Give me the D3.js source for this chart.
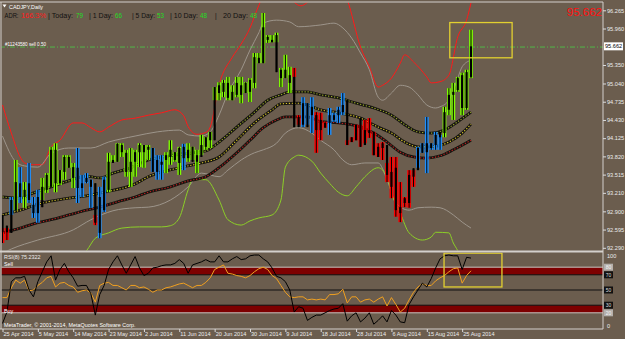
<!DOCTYPE html>
<html>
<head>
<meta charset="utf-8">
<script src="https://cdn.jsdelivr.net/npm/d3@7"></script>
<style>
body{margin:0;background:#6b5d4e;overflow:hidden}
svg{display:block;font-family:"Liberation Sans",Arial,sans-serif}
</style>
</head>
<body>
<div id="chart"></div>
<script>
// CADJPY daily bars, 25 Apr - 27 Aug 2014 (bar index 0..106)
var haHigh = [92.62,92.62,93.14,93.76,93.64,93.39,93.71,93.14,93.26,93.46,
93.54,93.98,94.04,93.59,93.84,93.84,93.71,93.96,93.51,93.54,
93.43,92.84,93.31,93.48,93.88,93.84,94.04,94.04,93.93,93.96,
93.93,94.04,94.01,94.01,93.96,93.84,93.84,93.89,94.09,93.89,
93.98,94.03,94.04,93.98,93.93,94.18,94.14,94.23,94.98,95.06,
95.10,95.15,95.01,95.15,95.15,95.06,95.13,95.55,95.55,96.22,
95.85,95.85,95.89,95.30,95.52,95.32,95.30,94.51,94.81,94.71,
94.81,94.56,94.55,94.40,94.63,94.55,94.65,94.88,94.09,94.14,
94.35,94.35,94.43,94.46,94.23,94.04,94.06,93.71,93.81,93.81,
93.39,93.14,93.59,93.59,93.98,94.04,94.48,94.04,94.23,94.18,
94.65,94.96,95.05,95.15,95.22,95.27,95.94]
var haLow = [92.37,92.42,92.84,92.92,93.04,92.96,93.04,92.79,92.71,93.09,
93.21,93.31,93.22,93.34,93.43,93.63,93.29,93.04,93.14,93.37,
92.96,92.67,92.45,92.89,93.22,93.73,93.73,93.81,93.48,93.31,
93.48,93.64,93.63,93.76,93.56,93.43,93.43,93.54,93.68,93.73,
93.51,93.59,93.73,93.76,93.54,93.84,93.93,93.96,94.76,94.76,
94.81,94.76,94.76,94.81,94.71,94.88,94.73,94.96,95.38,95.38,
95.72,95.73,95.73,94.98,95.13,94.88,95.15,94.35,94.31,94.35,
94.21,93.88,94.09,94.30,94.18,94.40,94.38,94.51,94.01,94.06,
94.09,93.98,94.04,94.13,93.84,93.81,93.76,93.39,93.12,92.81,
92.72,92.97,92.96,93.31,93.63,93.88,93.54,93.93,93.93,93.93,
94.14,94.51,94.43,94.90,94.51,94.60,95.13]
var openP = [92.84,92.66,92.54,92.92,93.37,93.14,93.37,93.01,92.87,92.97,
93.26,93.31,93.37,93.59,93.56,93.81,93.46,93.63,93.37,93.46,
93.43,93.37,92.54,92.92,93.26,93.76,93.73,94.01,93.88,93.56,
93.73,93.89,94.01,93.93,93.96,93.56,93.73,93.76,93.81,93.89,
93.71,93.98,93.79,93.98,93.73,93.81,93.98,94.09,94.09,94.88,
94.90,95.05,94.76,94.85,95.01,94.88,94.90,95.05,95.38,95.38,
95.82,95.77,95.85,95.27,95.13,95.18,95.15,94.48,94.35,94.71,
94.51,94.51,94.43,94.38,94.38,94.43,94.51,94.56,94.76,94.14,
94.09,94.46,94.26,94.26,94.23,93.98,93.96,94.01,93.56,93.63,
92.97,93.12,93.04,93.62,93.59,93.88,94.04,93.96,94.01,94.14,
94.21,94.60,94.85,94.93,94.63,94.63,95.15]
var closeP = [92.55,92.55,93.09,93.39,93.14,93.26,93.09,92.87,93.14,93.31,
93.51,93.93,93.93,93.37,93.81,93.63,93.64,93.29,93.29,93.39,
93.31,92.71,93.14,93.43,93.73,93.71,94.03,93.89,93.56,93.73,
93.89,94.01,93.89,93.98,93.56,93.76,93.68,93.84,93.93,93.76,
93.96,93.79,93.93,93.73,93.84,94.01,94.14,94.23,94.98,95.01,
95.05,94.80,94.90,95.05,94.85,95.05,95.10,95.48,95.47,95.98,
95.77,95.73,95.23,95.13,95.27,95.05,94.31,94.31,94.71,94.31,
94.65,94.26,94.26,94.30,94.51,94.51,94.60,94.68,94.01,94.06,
94.35,93.98,94.01,94.21,93.84,93.81,94.04,93.51,93.31,92.92,
92.87,93.04,93.51,93.48,93.96,94.04,93.89,94.04,94.18,94.23,
94.56,94.85,94.90,95.13,95.18,95.23,95.662]
// g = up (lime), b = neutral (blue), r = down (red)
var trend = ("rrbgbgbbbg" + "gggggggbbb" + "brbbgggggg" + "ggggbbbggg" + "gbgggggggg" +
  "gggggggggggggggg" + "rrbbbrrrbbbbrr" + "rrrrrrrrrrrrrr" + "bbbbbb" + "ggggggg").split("")

// envelope / moving average lines: [bar index, price]
var bandUpper = [[0,94.68],[2,94.21],[4,93.81],[5,93.71],[7,93.68],[9,93.68],[11,93.98],[13,94.09],[16,94.38],[18,94.38],[20,94.30],[22,94.23],[24,94.31],[27,94.43],[30,94.46],[33,94.51],[36,94.55],[39,94.60],[41,94.50],[42,94.32],[44,94.19],[46,94.22],[47,94.31],[49,95.02],[52,95.48],[54,95.70],[56,95.97],[58,96.35],[60,96.64],[63,96.75],[66,96.40],[67.5,96.34],[69,96.40],[72,96.69],[75,96.77],[78,96.44],[81,95.65],[83,95.32],[85,94.98],[86,95.01],[88,95.13],[90,95.38],[91,95.52],[93,95.40],[96,95.15],[97,95.05],[99,95.07],[101,95.18],[103,95.82],[105,96.10],[106,96.39]]
var bandUpperIn = [[0,94.16],[3,93.73],[5,93.66],[8,93.64],[11,93.87],[15,93.96],[20,93.96],[24,94.06],[30,94.16],[35,94.23],[40,94.26],[42,94.18],[45,94.16],[47,94.23],[49,94.51],[51,94.88],[54,95.27],[56,95.60],[58,95.89],[59,96.05],[62,96.10],[65,96.07],[67,95.99],[72,96.02],[75,96.05],[77,95.97],[79,95.80],[81,95.55],[83,95.27],[85,94.81],[86,94.76],[88,94.88],[90,95.01],[92,94.98],[94,94.85],[96,94.68],[98,94.63],[99,94.65],[101,94.76],[103,95.13],[104,95.32],[106,95.43]]
var maFast = [[0,93.14],[4,93.12],[7,93.21],[11,93.31],[15,93.41],[19,93.49],[22,93.46],[25,93.54],[29,93.63],[33,93.76],[38,93.83],[43,93.88],[46,93.91],[49,94.06],[53,94.31],[57,94.56],[60,94.76],[63,94.85],[65,94.90],[69,94.90],[72,94.85],[76,94.80],[80,94.71],[84,94.63],[88,94.51],[91,94.35],[94,94.23],[97,94.21],[100,94.26],[103,94.40],[106,94.56]]
var maMid = [[0,92.84],[4,92.92],[8,93.02],[15,93.12],[19,93.16],[23,93.22],[30,93.36],[33,93.48],[40,93.63],[45,93.71],[49,93.81],[53,94.09],[57,94.38],[61,94.60],[63,94.70],[67,94.71],[69,94.68],[72,94.60],[76,94.55],[81,94.46],[85,94.31],[88,94.21],[91,94.06],[94,93.98],[97,93.98],[101,94.06],[104,94.21],[106,94.36]]
var maSlow = [[0,92.54],[4,92.62],[7,92.69],[11,92.76],[15,92.84],[19,92.92],[22,92.97],[26,93.06],[30,93.14],[33,93.22],[38,93.31],[42,93.41],[46,93.48],[49,93.63],[53,93.88],[56,94.09],[59,94.30],[62,94.43],[64,94.48],[69,94.48],[72,94.40],[76,94.38],[81,94.31],[84,94.21],[87,94.06],[90,93.89],[93,93.81],[96,93.79],[99,93.83],[102,93.93],[106,94.09]]
var bandLowerIn = [[0,92.20],[2,92.27],[8,92.42],[16,92.59],[20,92.76],[25,92.91],[30,92.96],[33,92.97],[38,93.09],[42,93.31],[45,93.54],[49,93.48],[51,93.59],[54,93.76],[57,93.88],[59,93.93],[62,94.04],[64,94.21],[67,94.30],[70,94.21],[72,94.09],[75,93.93],[77,93.76],[79,93.68],[82,93.71],[85,93.71],[87,93.43],[89,93.04],[92,92.92],[94,92.96],[97,92.97],[99,92.96],[102,92.84],[104,92.72],[106,92.62]]
var bandLower = [[16,92.05],[19,92.24],[21,92.45],[24,92.54],[27,92.62],[31,92.64],[36,92.64],[38,92.66],[40,92.79],[42,93.26],[43,93.43],[46,93.43],[49,93.09],[51,92.76],[54,92.67],[56,92.74],[58,92.79],[61,92.84],[63,93.09],[64,93.64],[66,93.81],[67,93.84],[70,93.74],[72,93.54],[74,93.37],[76,93.22],[78,93.16],[80,93.31],[82,93.48],[85,93.63],[87,93.48],[88,93.21],[90,92.87],[92,92.54],[95,92.42],[97,92.47],[98,92.55],[101,92.54],[102,92.37],[103,92.24],[104,92.05]]

// oscillator window
var rsiBlack = [6,21,61,66,66,68,50,41,61,74,
87,95,63,77,85,74,66,55,56,56,
45,17,44,56,77,87,95,83,72,83,
94,79,69,72,79,80,82,83,83,85,
90,85,72,83,85,87,90,87,87,95,
87,87,91,94,90,91,95,96,96,91,
87,79,68,66,61,50,21,28,26,10,
14,17,17,20,23,25,26,32,9,16,
20,8,13,20,5,10,16,8,23,17,
8,7,31,41,50,59,54,65,79,91,
95,96,95,95,77,93,92]
var rsi8 = [40,40,53,63,59,63,49,50,56,60,
66,68,54,59,60,56,54,47,49,50,
46,34,56,59,60,56,56,53,50,56,
56,53,54,51,47,50,50,53,54,56,
58,59,56,53,56,56,60,66,77,80,
83,72,71,69,68,66,69,74,78,80,
77,69,65,56,47,41,40,41,41,37,
38,37,38,37,44,44,45,51,33,41,
41,34,37,38,34,38,41,29,40,31,
21,26,37,47,54,58,56,56,62,66,
69,74,78,79,59,69,75.2322]
var rsiLevels = [80,70,50,30,20]

var priceTicks = [96.265,95.960,95.350,95.040,94.735,94.430,94.125,93.820,93.515,93.210,92.900,92.595,92.290]
var dateTicks = [0,8,16,24,32,40,48,56,64,72,80,88,96,104]
var dateLabels = ["25 Apr 2014","5 May 2014","14 May 2014","23 May 2014","2 Jun 2014","11 Jun 2014","20 Jun 2014","30 Jun 2014","9 Jul 2014","18 Jul 2014","28 Jul 2014","6 Aug 2014","15 Aug 2014","25 Aug 2014"]
var lastPrice = 95.662
var orderPrice = 95.65
// header pieces: text, colour, left x, width
var adrParts = [["ADR:","#111",4.5,14],["166.3%","#ff1a1a",21,25],["| Today:","#111",48,25],["79","#22dd22",76,7],["| 1 Day:","#111",89,24],["66","#22dd22",115,7],["| 5 Day:","#111",132,23],["53","#22dd22",157,7],["| 10 Day:","#111",170,28],["48","#22dd22",200,7],["|","#111",215,0],["20 Day:","#111",223,25],["48","#22dd22",250,7]]
// yellow highlight boxes: [bar from, bar to, value top, value bottom]
var boxMain = [101.2,115.3,96.06,95.47]
var boxRsi = [99.9,113.0,98.5,54]

var W = 625, H = 339
var bg = "#6b5d4e"
var svg = d3.select("#chart").append("svg").attr("width",W).attr("height",H)
svg.append("rect").attr("width",W).attr("height",H).attr("fill",bg)

var x = d3.scaleLinear().domain([0,106]).range([2.5,471])
var y = d3.scaleLinear().domain([92.290,96.265]).range([247.8,10.3])
var r = d3.scaleLinear().domain([0,100]).range([328,252])

var defs = svg.append("defs")
defs.append("clipPath").attr("id","clipMain").append("rect").attr("x",1.5).attr("y",2.5).attr("width",601.5).attr("height",248)
defs.append("clipPath").attr("id","clipRsi").append("rect").attr("x",1.5).attr("y",252.5).attr("width",601.5).attr("height",76)

var mainG = svg.append("g").attr("clip-path","url(#clipMain)")
var rsiG = svg.append("g").attr("clip-path","url(#clipRsi)")

// order line
mainG.append("line").attr("x1",0).attr("x2",603).attr("y1",y(orderPrice)).attr("y2",y(orderPrice))
  .attr("stroke","#4fb848").attr("stroke-width",1).attr("stroke-dasharray","5,2,1,2")

var smooth = d3.line().x(function(d){return x(d[0])}).y(function(d){return y(d[1])}).curve(d3.curveMonotoneX)

function band(data,color){
  mainG.append("path").datum(data).attr("d",smooth).attr("fill","none").attr("stroke",color).attr("stroke-width",1)
}
band(bandUpper,"#ff1a1a")
band(bandUpperIn,"#9d958b")
band(bandLowerIn,"#9d958b")
band(bandLower,"#8ccf28")

function dotted(data,color){
  mainG.append("path").datum(data).attr("d",smooth).attr("fill","none").attr("stroke","#15140f").attr("stroke-width",2.8)
  mainG.append("path").datum(data).attr("d",smooth).attr("fill","none").attr("stroke",color).attr("stroke-width",1.1).attr("stroke-dasharray","1.3,1.7")
}
dotted(maFast,"#9aa82a")
dotted(maMid,"#d8c42c")
dotted(maSlow,"#c02020")

// heiken ashi bars and candles
var trendColor = {g:"#80ff00", b:"#1e90ff", r:"#ff0000"}
var bars = d3.range(closeP.length)
mainG.selectAll(".ha").data(bars).enter().append("rect")
  .attr("x",function(i){return x(i)-1.9}).attr("width",3.8)
  .attr("y",function(i){return y(haHigh[i])})
  .attr("height",function(i){return Math.max(1,y(haLow[i])-y(haHigh[i]))})
  .attr("fill",function(i){return trendColor[trend[i]]})
mainG.selectAll(".wick").data(bars).enter().append("line")
  .attr("x1",function(i){return x(i)}).attr("x2",function(i){return x(i)})
  .attr("y1",function(i){return y(Math.max(haHigh[i],openP[i],closeP[i]))})
  .attr("y2",function(i){return y(Math.min(haLow[i],openP[i],closeP[i]))})
  .attr("stroke","#000").attr("stroke-width",1)
mainG.selectAll(".body").data(bars).enter().append("rect")
  .attr("x",function(i){return x(i)-1.1}).attr("width",2.2)
  .attr("y",function(i){return y(Math.max(openP[i],closeP[i]))})
  .attr("height",function(i){return Math.max(1,Math.abs(y(openP[i])-y(closeP[i])))})
  .attr("fill","#000")

// highlight boxes
mainG.append("rect").attr("x",x(boxMain[0])).attr("y",y(boxMain[2]))
  .attr("width",x(boxMain[1])-x(boxMain[0])).attr("height",y(boxMain[3])-y(boxMain[2]))
  .attr("fill","none").attr("stroke","#e2d030").attr("stroke-width",1.3)

// oscillator bands and levels
rsiG.append("rect").attr("x",0).attr("width",603).attr("y",r(80)).attr("height",r(70)-r(80)).attr("fill","#7d0000")
rsiG.append("rect").attr("x",0).attr("width",603).attr("y",r(30)).attr("height",r(20)-r(30)).attr("fill","#7d0000")
rsiLevels.forEach(function(v){
  var light = (v==80||v==20)
  rsiG.append("line").attr("x1",0).attr("x2",603).attr("y1",r(v)).attr("y2",r(v))
    .attr("stroke",light?"#c8c4c0":"#111").attr("stroke-width",1)
})
var rline = d3.line().x(function(d,i){return x(i)}).y(function(d){return r(d)})
rsiG.append("path").datum(rsi8).attr("d",rline).attr("fill","none").attr("stroke","#f0a020").attr("stroke-width",1)
rsiG.append("path").datum(rsiBlack).attr("d",rline).attr("fill","none").attr("stroke","#000").attr("stroke-width",1)
rsiG.append("rect").attr("x",x(boxRsi[0])).attr("y",r(boxRsi[2]))
  .attr("width",x(boxRsi[1])-x(boxRsi[0])).attr("height",r(boxRsi[3])-r(boxRsi[2]))
  .attr("fill","none").attr("stroke","#e2d030").attr("stroke-width",1.3)

// frames
var frame = "#d4d0cc"
svg.append("line").attr("x1",0).attr("x2",603).attr("y1",2).attr("y2",2).attr("stroke",frame)
svg.append("line").attr("x1",1).attr("x2",1).attr("y1",2).attr("y2",329).attr("stroke",frame)
svg.append("line").attr("x1",0).attr("x2",603).attr("y1",251.5).attr("y2",251.5).attr("stroke",frame).attr("stroke-width",1.8)
svg.append("line").attr("x1",0).attr("x2",603).attr("y1",329).attr("y2",329).attr("stroke",frame)
svg.append("line").attr("x1",603).attr("x2",603).attr("y1",2).attr("y2",329).attr("stroke",frame)

// price axis
var gy = svg.append("g").attr("transform","translate(603,0)")
  .call(d3.axisRight(y).tickValues(priceTicks).tickSize(3).tickPadding(1).tickFormat(d3.format(".3f")))
gy.attr("font-size","5.6px").attr("font-family","Liberation Sans, Arial, sans-serif")
gy.select(".domain").remove()
gy.selectAll("line").attr("stroke","#ddd")
gy.selectAll("text").attr("fill","#ececec")

// last price box
svg.append("rect").attr("x",604).attr("y",y(lastPrice)-4).attr("width",19).attr("height",8).attr("fill","#fff")
svg.append("text").attr("x",605).attr("y",y(lastPrice)+2).attr("font-size","5.6px").attr("fill","#000").text(d3.format(".3f")(lastPrice))

// date axis
var gx = svg.append("g").attr("transform","translate(0,329)")
  .call(d3.axisBottom(x).tickValues(dateTicks).tickSize(3).tickPadding(0.5).tickFormat(function(d,i){return dateLabels[i]}))
gx.attr("font-size","5.6px").attr("font-family","Liberation Sans, Arial, sans-serif")
gx.select(".domain").remove()
gx.selectAll("line").attr("stroke","#ddd")
gx.selectAll("text").attr("fill","#ececec").attr("text-anchor","start").attr("x",0.5)

// oscillator scale labels
svg.append("text").attr("x",607).attr("y",258).attr("font-size","5.6px").attr("fill","#ececec").text("100")
svg.append("text").attr("x",607).attr("y",327.5).attr("font-size","5.6px").attr("fill","#ececec").text("0")
rsiLevels.forEach(function(v){
  var light = (v==80||v==20)
  svg.append("rect").attr("x",604).attr("y",r(v)-3.5).attr("width",9).attr("height",7).attr("fill",light?"#b4b0ac":"#111")
  svg.append("text").attr("x",608.5).attr("y",r(v)+2).attr("text-anchor","middle").attr("font-size","5px")
    .attr("fill",light?"#f4f4f4":"#ddd").text(v)
})

// texts
svg.append("path").attr("d","M2.5,4.5L6.5,4.5L4.5,7.5Z").attr("fill","#fff")
svg.append("text").attr("x",9).attr("y",8.5).attr("font-size","5.4px").attr("fill","#fff").text("CADJPY,Daily")
adrParts.forEach(function(p){
  var t = svg.append("text").attr("x",p[2]).attr("y",17.5).attr("font-size","6.4px").attr("fill",p[1]).text(p[0])
  if (p[3] > 0) t.attr("textLength",p[3]).attr("lengthAdjust","spacingAndGlyphs")
})
svg.append("text").attr("x",5).attr("y",45.5).attr("font-size","4.6px").attr("fill","#fff").text("#11243580 sell 0.50")
svg.append("text").attr("x",602).attr("y",15.5).attr("text-anchor","end").attr("font-size","11.5px").attr("fill","#ff1010").text(d3.format(".3f")(lastPrice))

svg.append("text").attr("x",4).attr("y",259).attr("font-size","5.4px").attr("fill","#ececec").text("RSI(8) " + d3.format(".4f")(rsi8[rsi8.length-1]))
svg.append("text").attr("x",4).attr("y",266).attr("font-size","5.4px").attr("fill","#fff").text("Sell")
svg.append("text").attr("x",4).attr("y",312.5).attr("font-size","5.4px").attr("fill","#fff").text("Buy")
svg.append("text").attr("x",4).attr("y",327).attr("font-size","5.4px").attr("fill","#fff").text("MetaTrader, \u00a9 2001-2014, MetaQuotes Software Corp.")
</script>
</body>
</html>
